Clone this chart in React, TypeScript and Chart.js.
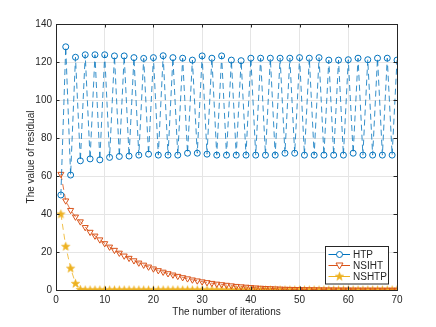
import React, { useEffect, useRef } from "react";
import { Chart, registerables } from "chart.js";

Chart.register(...registerables);

const iterations: number[] = Array.from({ length: 70 }, (_, i) => i + 1);

const htp: number[] = [
  50, 128, 60.5, 122.5, 68, 123.8, 69, 123.8, 68.5, 123.8,
  69.8, 123.2, 70.3, 123.2, 70.5, 122.3, 71, 121.9, 71.5, 122.3,
  71, 123.3, 71, 122.3, 71, 122, 72, 121, 72, 123.2,
  71.5, 122, 71, 123.2, 71, 121, 71, 120.7, 71, 122,
  71, 122, 71, 122, 71, 122, 72, 122, 72, 122.3,
  71, 122, 71, 122.3, 71, 121, 71, 121, 71, 121.2,
  72, 122, 71, 121.2, 71, 122, 71, 122, 71, 121,
];

const nsiht: number[] = [
  61, 47, 42, 38.5, 36, 33, 30.5, 28.5, 26.5, 24.5,
  22.7, 21, 19.5, 18, 16.8, 15.5, 14.3, 13.2, 12.2, 11.2,
  10.3, 9.5, 8.7, 8, 7.3, 6.6, 6, 5.4, 4.9, 4.4,
  4, 3.6, 3.2, 2.9, 2.6, 2.3, 2, 1.8, 1.6, 1.4,
  1.2, 1.05, 0.9, 0.8, 0.7, 0.6, 0.5, 0.45, 0.4, 0.35,
  0.3, 0.27, 0.24, 0.21, 0.18, 0.16, 0.14, 0.12, 0.1, 0.09,
  0.08, 0.07, 0.06, 0.05, 0.05, 0.04, 0.04, 0.03, 0.03, 0.03,
];

const nshtp: number[] = [
  40, 23, 11.5, 3.5, 0.3, 0, 0, 0, 0, 0,
  0, 0, 0, 0, 0, 0, 0, 0, 0, 0,
  0, 0, 0, 0, 0, 0, 0, 0, 0, 0,
  0, 0, 0, 0, 0, 0, 0, 0, 0, 0,
  0, 0, 0, 0, 0, 0, 0, 0, 0, 0,
  0, 0, 0, 0, 0, 0, 0, 0, 0, 0,
  0, 0, 0, 0, 0, 0, 0, 0, 0, 0,
];

const seriesNames = ["HTP", "NSIHT", "NSHTP"];
const xTicks = [0, 10, 20, 30, 40, 50, 60, 70];
const yTicks = [0, 20, 40, 60, 80, 100, 120, 140];
const xTitle = "The number of iterations";
const yTitle = "The value of residual";

const BLUE = "#0072BD";
const ORANGE = "#D95319";
const YELLOW = "#EDB120";
const AXIS = "#262626";
const FONT = "'Liberation Sans', Arial, Helvetica, sans-serif";

function makeStar(color: string): HTMLCanvasElement {
  const c = document.createElement("canvas");
  c.width = 11;
  c.height = 11;
  const g = c.getContext("2d")!;
  const cx = 5.5, cy = 5.8, R = 4.5, r = 1.9;
  g.beginPath();
  for (let i = 0; i < 10; i++) {
    const ang = -Math.PI / 2 + (i * Math.PI) / 5;
    const rad = i % 2 === 0 ? R : r;
    const px = cx + rad * Math.cos(ang);
    const py = cy + rad * Math.sin(ang);
    if (i === 0) g.moveTo(px, py);
    else g.lineTo(px, py);
  }
  g.closePath();
  g.fillStyle = color;
  g.fill();
  g.strokeStyle = color;
  g.lineWidth = 0.5;
  g.stroke();
  return c;
}

export default function App() {
  const ref = useRef<HTMLCanvasElement | null>(null);

  useEffect(() => {
    if (!ref.current) return;
    const star = makeStar(YELLOW);

    const frame = {
      id: "frame",
      afterDatasetsDraw(chart: any) {
        const { ctx, chartArea: a, scales } = chart;
        ctx.save();
        ctx.strokeStyle = AXIS;
        ctx.lineWidth = 1;
        ctx.strokeRect(Math.round(a.left) + 0.5, Math.round(a.top) + 0.5, Math.round(a.right - a.left), Math.round(a.bottom - a.top));
        const tl = 3.5;
        ctx.beginPath();
        for (const t of xTicks) {
          const x = Math.round(scales.x.getPixelForValue(t)) + 0.5;
          ctx.moveTo(x, a.bottom);
          ctx.lineTo(x, a.bottom - tl);
          ctx.moveTo(x, a.top);
          ctx.lineTo(x, a.top + tl);
        }
        for (const t of yTicks) {
          const y = Math.round(scales.y.getPixelForValue(t)) + 0.5;
          ctx.moveTo(a.left, y);
          ctx.lineTo(a.left + tl, y);
          ctx.moveTo(a.right, y);
          ctx.lineTo(a.right - tl, y);
        }
        ctx.stroke();
        ctx.restore();
      },
      afterDraw(chart: any) {
        const { ctx, chartArea: a } = chart;
        ctx.save();
        ctx.fillStyle = AXIS;
        ctx.font = `10px ${FONT}`;
        ctx.textAlign = "center";
        ctx.textBaseline = "middle";
        ctx.fillText(xTitle, (a.left + a.right) / 2, 312);
        ctx.translate(31, (a.top + a.bottom) / 2);
        ctx.rotate(-Math.PI / 2);
        ctx.fillText(yTitle, 0, 0);
        ctx.restore();

        ctx.save();
        const lx = 325.5, ly = 246.5, lw = 63, lh = 37.5;
        ctx.fillStyle = "#ffffff";
        ctx.fillRect(lx, ly, lw, lh);
        ctx.strokeStyle = AXIS;
        ctx.lineWidth = 1;
        ctx.strokeRect(lx, ly, lw, lh);
        const rows = [254.5, 265.5, 276.5];
        const colors = [BLUE, ORANGE, YELLOW];
        ctx.font = `10px ${FONT}`;
        ctx.textAlign = "left";
        ctx.textBaseline = "middle";
        for (let i = 0; i < 3; i++) {
          const y = rows[i];
          ctx.strokeStyle = colors[i];
          ctx.lineWidth = 1;
          ctx.beginPath();
          ctx.moveTo(328.5, y);
          ctx.lineTo(350, y);
          ctx.stroke();
          const mx = 339.5;
          if (i === 0) {
            ctx.fillStyle = "#ffffff";
            ctx.beginPath();
            ctx.arc(mx, y, 3, 0, Math.PI * 2);
            ctx.fill();
            ctx.stroke();
          } else if (i === 1) {
            ctx.fillStyle = "#ffffff";
            ctx.beginPath();
            ctx.moveTo(mx - 3.5, y - 2.5);
            ctx.lineTo(mx + 3.5, y - 2.5);
            ctx.lineTo(mx, y + 3.5);
            ctx.closePath();
            ctx.fill();
            ctx.stroke();
          } else {
            ctx.drawImage(star, mx - 5.5, y - 5.8);
          }
          ctx.fillStyle = AXIS;
          ctx.fillText(seriesNames[i], 353, y + 0.5);
        }
        ctx.restore();
      },
    };

    const chart = new Chart(ref.current, {
      type: "line",
      data: {
        datasets: [
          {
            label: seriesNames[0],
            data: iterations.map((x, i) => ({ x, y: htp[i] })),
            borderColor: BLUE,
            borderWidth: 0.8,
            borderDash: [6, 4],
            pointStyle: "circle",
            pointRadius: 3,
            pointBorderWidth: 1,
            pointBorderColor: BLUE,
            pointBackgroundColor: "rgba(0,0,0,0)",
            tension: 0,
          },
          {
            label: seriesNames[1],
            data: iterations.map((x, i) => ({ x, y: nsiht[i] })),
            borderColor: ORANGE,
            borderWidth: 0.8,
            borderDash: [6, 4],
            pointStyle: "triangle",
            pointRotation: 180,
            pointRadius: 3.5,
            pointBorderWidth: 1,
            pointBorderColor: ORANGE,
            pointBackgroundColor: "rgba(0,0,0,0)",
            tension: 0,
          },
          {
            label: seriesNames[2],
            data: iterations.map((x, i) => ({ x, y: nshtp[i] })),
            borderColor: YELLOW,
            borderWidth: 0.8,
            borderDash: [6, 4],
            pointStyle: star as any,
            pointRadius: 4,
            tension: 0,
          },
        ],
      },
      options: {
        animation: false,
        responsive: false,
        events: [],
        layout: { padding: { top: 24, right: 39, left: 0, bottom: 0 } },
        plugins: { legend: { display: false }, tooltip: { enabled: false } },
        scales: {
          x: {
            type: "linear",
            min: 0,
            max: 70,
            afterFit: (s: any) => { s.height = 37; },
            afterBuildTicks: (s: any) => { s.ticks = xTicks.map((v) => ({ value: v })); },
            grid: { color: "#e5e5e5", lineWidth: 1, drawTicks: false },
            border: { display: false },
            ticks: { color: AXIS, font: { family: FONT, size: 10 }, padding: 4, maxRotation: 0 },
          },
          y: {
            type: "linear",
            min: 0,
            max: 140,
            afterFit: (s: any) => { s.width = 56; },
            afterBuildTicks: (s: any) => { s.ticks = yTicks.map((v) => ({ value: v })); },
            grid: { color: "#e5e5e5", lineWidth: 1, drawTicks: false },
            border: { display: false },
            ticks: { color: AXIS, font: { family: FONT, size: 10 }, padding: 4 },
          },
        },
      },
      plugins: [frame],
    } as any);

    return () => chart.destroy();
  }, []);

  return (
    <div style={{ position: "fixed", left: 0, top: 0, width: 436, height: 327, background: "#fff" }}>
      <canvas ref={ref} width={436} height={327} style={{ display: "block", width: 436, height: 327 }} />
    </div>
  );
}
